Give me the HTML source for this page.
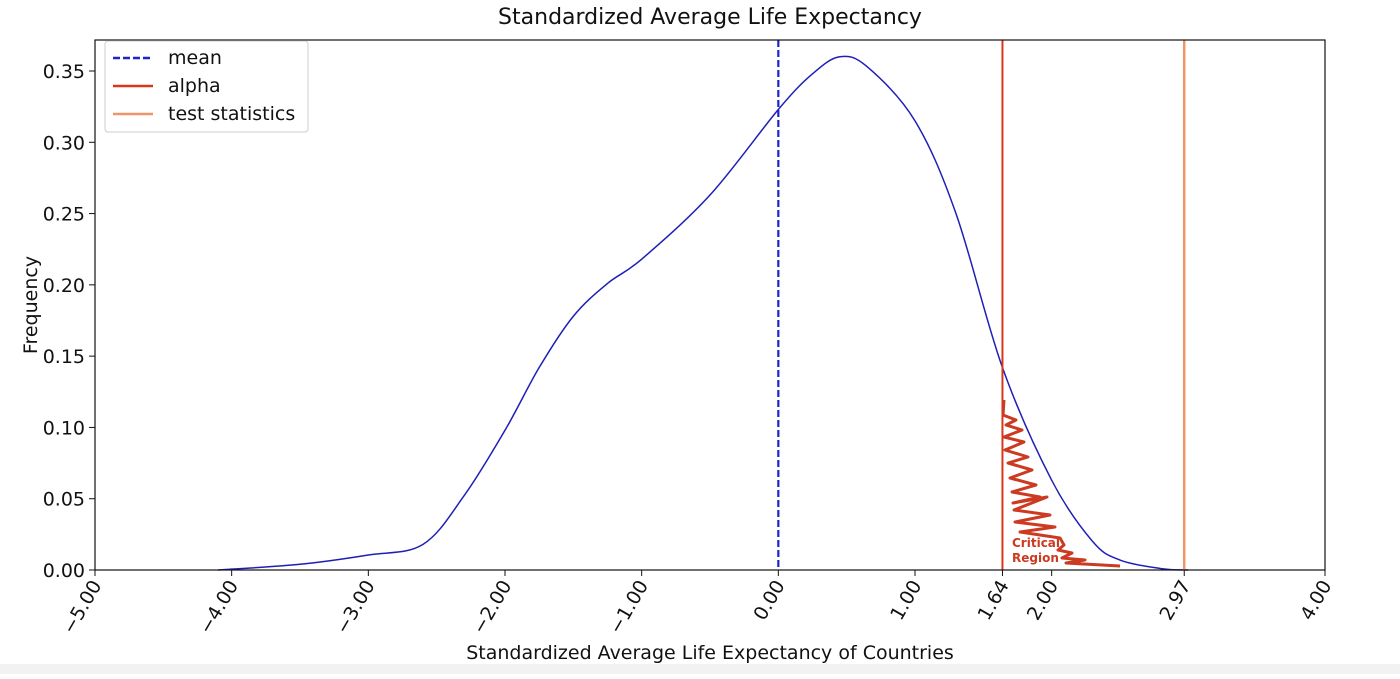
<!DOCTYPE html>
<html><head><meta charset="utf-8"><style>
body{margin:0;background:#fff;width:1400px;height:674px;overflow:hidden;font-family:"Liberation Sans","DejaVu Sans",sans-serif}
</style></head><body>
<svg id="chart" width="1400" height="674" xmlns="http://www.w3.org/2000/svg" font-family="DejaVu Sans, Liberation Sans, sans-serif">
<rect x="0" y="664" width="1400" height="10" fill="#f2f2f2"/>
<text x="710" y="24" text-anchor="middle" font-size="22" fill="#111">Standardized Average Life Expectancy</text>
<g id="plot"></g>
<rect x="95" y="40" width="1230" height="530" fill="none" stroke="#111" stroke-width="1.2"/>
<text x="710" y="659" text-anchor="middle" font-size="19" fill="#111">Standardized Average Life Expectancy of Countries</text>
<text transform="translate(37,305) rotate(-90)" text-anchor="middle" font-size="19" fill="#111">Frequency</text>
<g>
<rect x="105" y="41" width="203" height="91" rx="3" fill="#fff" stroke="#ccc"/>
<line x1="113" y1="58" x2="153" y2="58" stroke="#1f24c8" stroke-width="2.5" stroke-dasharray="7,3"/>
<text x="168" y="64" font-size="19" fill="#111">mean</text>
<line x1="113" y1="86" x2="153" y2="86" stroke="#d9361c" stroke-width="2.5"/>
<text x="168" y="92" font-size="19" fill="#111">alpha</text>
<line x1="113" y1="114" x2="153" y2="114" stroke="#f0956a" stroke-width="2.5"/>
<text x="168" y="120" font-size="19" fill="#111">test statistics</text>
</g>
</svg>
<script>
const curveX=[-4.1,-3.5,-3.0,-2.6,-2.3,-2.0,-1.75,-1.5,-1.25,-1.0,-0.5,0,0.25,0.45,0.65,1.0,1.3,1.64,2.0,2.3,2.5,2.8,3.0];
const curveY=[0,0.004,0.0105,0.018,0.052,0.098,0.142,0.178,0.201,0.218,0.263,0.323,0.348,0.36,0.353,0.315,0.25,0.142,0.063,0.02,0.007,0.001,0];
const xTicks=[-5,-4,-3,-2,-1,0,1,1.64,2,2.97,4];
const xTickLabels=["\u22125.00","\u22124.00","\u22123.00","\u22122.00","\u22121.00","0.00","1.00","1.64","2.00","2.97","4.00"];
const yTicks=[0,0.05,0.10,0.15,0.20,0.25,0.30,0.35];
const yTickLabels=["0.00","0.05","0.10","0.15","0.20","0.25","0.30","0.35"];
const meanVal=0, alphaVal=1.64, testStat=2.97;
const sx=v=>95+(v+5)*(1230/9);
const sy=v=>570-v*1425.7;
const g=document.getElementById('plot');
const NS='http://www.w3.org/2000/svg';
function mk(t,a){const e=document.createElementNS(NS,t);for(const k in a)e.setAttribute(k,a[k]);g.appendChild(e);return e;}
const pts=curveX.map((x,i)=>[sx(x),sy(curveY[i])]);
let d='M'+pts[0][0]+','+pts[0][1];
for(let i=0;i<pts.length-1;i++){const p0=pts[Math.max(0,i-1)],p1=pts[i],p2=pts[i+1],p3=pts[Math.min(pts.length-1,i+2)];
d+=' C'+(p1[0]+(p2[0]-p0[0])/6)+','+(p1[1]+(p2[1]-p0[1])/6)+' '+(p2[0]-(p3[0]-p1[0])/6)+','+(p2[1]-(p3[1]-p1[1])/6)+' '+p2[0]+','+p2[1];}
const c=mk('path',{d:d,fill:'none',stroke:'#1f1fb8','stroke-width':1.5});


const m=mk('line',{x1:sx(meanVal),x2:sx(meanVal),y1:40,y2:570,stroke:'#1f24c8','stroke-width':2.2,'stroke-dasharray':'7,3'});


const a=mk('line',{x1:sx(alphaVal),x2:sx(alphaVal),y1:40,y2:570,stroke:'#d9361c','stroke-width':2});


const t=mk('line',{x1:sx(testStat),x2:sx(testStat),y1:40,y2:570,stroke:'#f0956a','stroke-width':2.5});


const sc='M1004,400 L1003,415 L1016,420 L1006,425 L1022,430 L1004,437 L1024,442 L1005,450 L1028,457 L1008,463 L1032,470 L1010,478 L1036,485 L1012,492 L1040,497 L1013,503 L1047,497 L1014,510 L1050,515 L1015,522 L1055,527 L1020,532 L1060,538 L1064,545 L1058,550 L1072,553 L1062,558 L1085,560 L1066,563 L1120,566';
const s=mk('path',{d:sc,fill:'none',stroke:'#cc3a22','stroke-width':3,'stroke-linejoin':'round'});


const ct=mk('text',{x:1012,y:547,'font-size':12,'font-weight':'bold',fill:'#cc3a22'});ct.textContent='Critical';


const rt=mk('text',{x:1012,y:562,'font-size':12,'font-weight':'bold',fill:'#cc3a22'});rt.textContent='Region';


xTicks.forEach((v,i)=>{const x=sx(v);
const l=mk('line',{x1:x,x2:x,y1:570,y2:576,stroke:'#111','stroke-width':1});


const tx=mk('text',{transform:'translate('+(x+7)+',585) rotate(-60)','text-anchor':'end','font-size':19,fill:'#111'});tx.textContent=xTickLabels[i];

});
yTicks.forEach((v,i)=>{const y=sy(v);
const l=mk('line',{x1:89,x2:95,y1:y,y2:y,stroke:'#111','stroke-width':1});


const tx=mk('text',{x:85,y:y+7,'text-anchor':'end','font-size':19,fill:'#111'});tx.textContent=yTickLabels[i];

});
</script>
</body></html>
